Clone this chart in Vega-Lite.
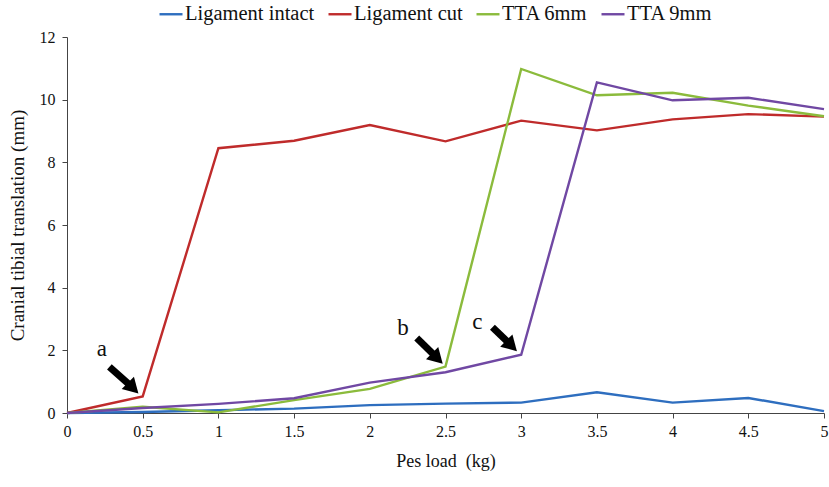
{
  "$schema": "https://vega.github.io/schema/vega-lite/v6.json",
  "width": 757,
  "height": 376,
  "autosize": "none",
  "padding": {"left": 67, "top": 37, "right": 5, "bottom": 74},
  "background": "white",
  "config": {
    "font": "Liberation Serif",
    "view": {"stroke": null},
    "axis": {"grid": false, "domainColor": "#444", "tickColor": "#444", "labelColor": "#111", "titleColor": "#111", "titleFontWeight": "normal"}
  },
  "datasets": {
    "series": [
      {"load": 0, "s": "Ligament intact", "v": 0},
      {"load": 0.5, "s": "Ligament intact", "v": 0.03},
      {"load": 1, "s": "Ligament intact", "v": 0.09},
      {"load": 1.5, "s": "Ligament intact", "v": 0.14},
      {"load": 2, "s": "Ligament intact", "v": 0.25},
      {"load": 2.5, "s": "Ligament intact", "v": 0.3},
      {"load": 3, "s": "Ligament intact", "v": 0.33},
      {"load": 3.5, "s": "Ligament intact", "v": 0.66},
      {"load": 4, "s": "Ligament intact", "v": 0.33},
      {"load": 4.5, "s": "Ligament intact", "v": 0.48},
      {"load": 5, "s": "Ligament intact", "v": 0.06},
      {"load": 0, "s": "Ligament cut", "v": 0},
      {"load": 0.5, "s": "Ligament cut", "v": 0.53},
      {"load": 1, "s": "Ligament cut", "v": 8.45},
      {"load": 1.5, "s": "Ligament cut", "v": 8.69},
      {"load": 2, "s": "Ligament cut", "v": 9.19},
      {"load": 2.5, "s": "Ligament cut", "v": 8.67},
      {"load": 3, "s": "Ligament cut", "v": 9.33},
      {"load": 3.5, "s": "Ligament cut", "v": 9.02},
      {"load": 4, "s": "Ligament cut", "v": 9.37},
      {"load": 4.5, "s": "Ligament cut", "v": 9.54},
      {"load": 5, "s": "Ligament cut", "v": 9.46},
      {"load": 0, "s": "TTA 6mm", "v": 0},
      {"load": 0.5, "s": "TTA 6mm", "v": 0.2},
      {"load": 1, "s": "TTA 6mm", "v": 0.02},
      {"load": 1.5, "s": "TTA 6mm", "v": 0.41},
      {"load": 2, "s": "TTA 6mm", "v": 0.77},
      {"load": 2.5, "s": "TTA 6mm", "v": 1.48},
      {"load": 3, "s": "TTA 6mm", "v": 10.98},
      {"load": 3.5, "s": "TTA 6mm", "v": 10.14},
      {"load": 4, "s": "TTA 6mm", "v": 10.22},
      {"load": 4.5, "s": "TTA 6mm", "v": 9.81},
      {"load": 5, "s": "TTA 6mm", "v": 9.47},
      {"load": 0, "s": "TTA 9mm", "v": 0},
      {"load": 0.5, "s": "TTA 9mm", "v": 0.16},
      {"load": 1, "s": "TTA 9mm", "v": 0.29},
      {"load": 1.5, "s": "TTA 9mm", "v": 0.47},
      {"load": 2, "s": "TTA 9mm", "v": 0.97},
      {"load": 2.5, "s": "TTA 9mm", "v": 1.3},
      {"load": 3, "s": "TTA 9mm", "v": 1.86},
      {"load": 3.5, "s": "TTA 9mm", "v": 10.55},
      {"load": 4, "s": "TTA 9mm", "v": 9.98},
      {"load": 4.5, "s": "TTA 9mm", "v": 10.06},
      {"load": 5, "s": "TTA 9mm", "v": 9.7}
    ],
    "arrows": [
      {"label": "a", "lx": 0.23, "ly": 2.05, "tx": 0.28, "ty": 1.47, "hx": 0.425, "hy": 0.85},
      {"label": "b", "lx": 2.22, "ly": 2.7, "tx": 2.31, "ty": 2.39, "hx": 2.435, "hy": 1.8},
      {"label": "c", "lx": 2.71, "ly": 2.92, "tx": 2.81, "ty": 2.74, "hx": 2.925, "hy": 2.2}
    ]
  },
  "layer": [
    {
      "data": {"name": "series"},
      "mark": {"type": "line", "strokeWidth": 2.4},
      "encoding": {
        "x": {
          "field": "load", "type": "quantitative",
          "scale": {"domain": [0, 5], "nice": false},
          "axis": {"values": [0, 0.5, 1, 1.5, 2, 2.5, 3, 3.5, 4, 4.5, 5], "format": "~g", "labelFont": "Liberation Serif", "titleFont": "Liberation Serif", "labelFontSize": 16, "labelPadding": 5, "tickSize": 5, "title": "Pes load\u00a0 (kg)", "titleFontSize": 18, "titlePadding": 13, "labelFlush": false}
        },
        "y": {
          "field": "v", "type": "quantitative",
          "scale": {"domain": [0, 12], "nice": false},
          "axis": {"values": [0, 2, 4, 6, 8, 10, 12], "labelFont": "Liberation Serif", "titleFont": "Liberation Serif", "labelFontSize": 16, "labelPadding": 7, "tickSize": 5, "title": "Cranial tibial translation (mm)", "titleFontSize": 19, "titlePadding": 12}
        },
        "color": {
          "field": "s", "type": "nominal",
          "sort": ["Ligament intact", "Ligament cut", "TTA 6mm", "TTA 9mm"],
          "scale": {"domain": ["Ligament intact", "Ligament cut", "TTA 6mm", "TTA 9mm"], "range": ["#2e6ebf", "#bf2b2b", "#8bbb3c", "#7048a3"]},
          "legend": {
            "title": null, "orient": "none", "direction": "horizontal",
            "legendX": 91, "legendY": -36,
            "symbolType": "stroke", "symbolSize": 529, "symbolStrokeWidth": 2.4,
            "labelFontSize": 20.5, "labelFont": "Liberation Serif", "labelColor": "#111",
            "labelOffset": 1, "columnPadding": 8, "labelLimit": 300
          }
        }
      }
    },
    {
      "data": {"name": "arrows"},
      "mark": {"type": "rule", "color": "black", "strokeWidth": 7},
      "encoding": {
        "x": {"field": "tx", "type": "quantitative"},
        "y": {"field": "ty", "type": "quantitative"},
        "x2": {"field": "hx"},
        "y2": {"field": "hy"}
      }
    },
    {
      "data": {"name": "arrows"},
      "mark": {"type": "point", "shape": "triangle", "filled": true, "color": "black", "opacity": 1, "size": 300, "angle": 135},
      "encoding": {
        "x": {"field": "hx", "type": "quantitative"},
        "y": {"field": "hy", "type": "quantitative"}
      }
    },
    {
      "data": {"name": "arrows"},
      "mark": {"type": "text", "fontSize": 23, "font": "Liberation Serif", "color": "#111"},
      "encoding": {
        "x": {"field": "lx", "type": "quantitative"},
        "y": {"field": "ly", "type": "quantitative"},
        "text": {"field": "label"}
      }
    }
  ]
}
